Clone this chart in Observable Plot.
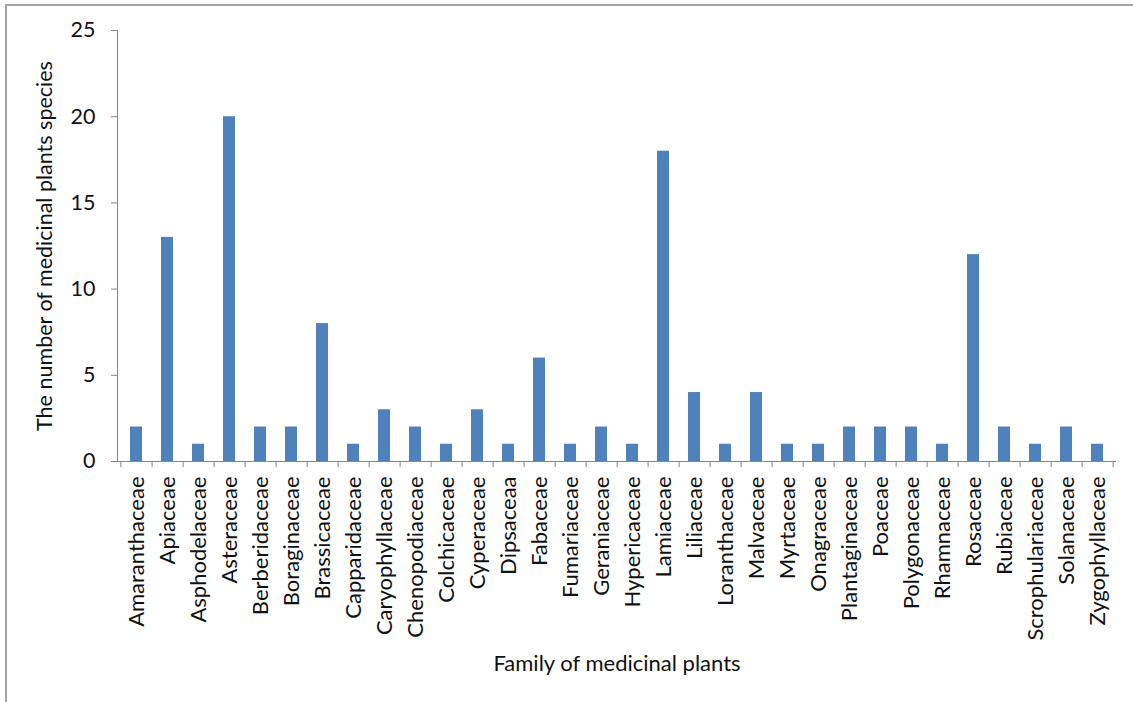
<!DOCTYPE html>
<html>
<head>
<meta charset="utf-8">
<script src="https://cdn.jsdelivr.net/npm/d3@7"></script>
<script src="https://cdn.jsdelivr.net/npm/@observablehq/plot@0.6"></script>
<style>
  html, body { margin: 0; padding: 0; background: #fff; }
  #wrap { position: relative; width: 1133px; height: 702px; overflow: hidden; }
  #border { position: absolute; left: 5px; top: 4px; width: 1200px; height: 800px;
            border-top: 2px solid #a4a4a4; border-left: 2px solid #a4a4a4; pointer-events: none; }
</style>
</head>
<body>
<div id="wrap"><div id="border"></div></div>
<script>
const families = ["Amaranthaceae","Apiaceae","Asphodelaceae","Asteraceae","Berberidaceae","Boraginaceae","Brassicaceae","Capparidaceae","Caryophyllaceae","Chenopodiaceae","Colchicaceae","Cyperaceae","Dipsaceaa","Fabaceae","Fumariaceae","Geraniaceae","Hypericaceae","Lamiaceae","Liliaceae","Loranthaceae","Malvaceae","Myrtaceae","Onagraceae","Plantaginaceae","Poaceae","Polygonaceae","Rhamnaceae","Rosaceae","Rubiaceae","Scrophulariaceae","Solanaceae","Zygophyllaceae"];
const species = [2,13,1,20,2,2,8,1,3,2,1,3,1,6,1,2,1,18,4,1,4,1,1,2,2,2,1,12,2,1,2,1];
const yTicks = [0,5,10,15,20,25];

const data = families.map((f, i) => ({family: f, n: species[i]}));

const W = 1133, H = 702;
const mL = 117, mR = 17, mT = 30, mB = 241;
const step = (W - mL - mR) / families.length;
const font = "Lato, 'Open Sans', sans-serif";
const axisColor = "#868686";
const textColor = "#111";

const chart = Plot.plot({
  width: W,
  height: H,
  marginLeft: mL,
  marginRight: mR,
  marginTop: mT,
  marginBottom: mB,
  style: {fontFamily: font, fontSize: "22px", color: textColor, background: "transparent"},
  x: {domain: families, paddingInner: 0.6, paddingOuter: 0.3},
  y: {domain: [0, 25]},
  marks: [
    Plot.barY(data, {x: "family", y: "n", fill: "#4F81BD"}),
    Plot.frame({anchor: "left", stroke: axisColor}),
    Plot.ruleY([0], {stroke: axisColor}),
    // tick marks between categories
    Plot.axisX({tickSize: 6, tickFormat: () => "", stroke: axisColor, dx: step / 2, label: null}),
    Plot.axisX([families[0]], {tickSize: 6, tickFormat: () => "", stroke: axisColor, dx: -step / 2, label: null}),
    // category labels
    Plot.axisX({tickSize: 0, tickRotate: -90, tickPadding: 15, fontSize: 22, fill: textColor,
                label: "Family of medicinal plants", labelAnchor: "center", labelArrow: "none", labelOffset: 209}),
    Plot.axisY({ticks: yTicks, tickSize: 6, tickPadding: 16, stroke: axisColor, fontSize: 21.5, fill: textColor,
                label: "The number of medicinal plants species", labelAnchor: "center", labelArrow: "none", labelOffset: 81})
  ]
});
document.getElementById("wrap").appendChild(chart);
chart.style.position = "absolute";
chart.style.left = "0px";
chart.style.top = "0px";
</script>
</body>
</html>
